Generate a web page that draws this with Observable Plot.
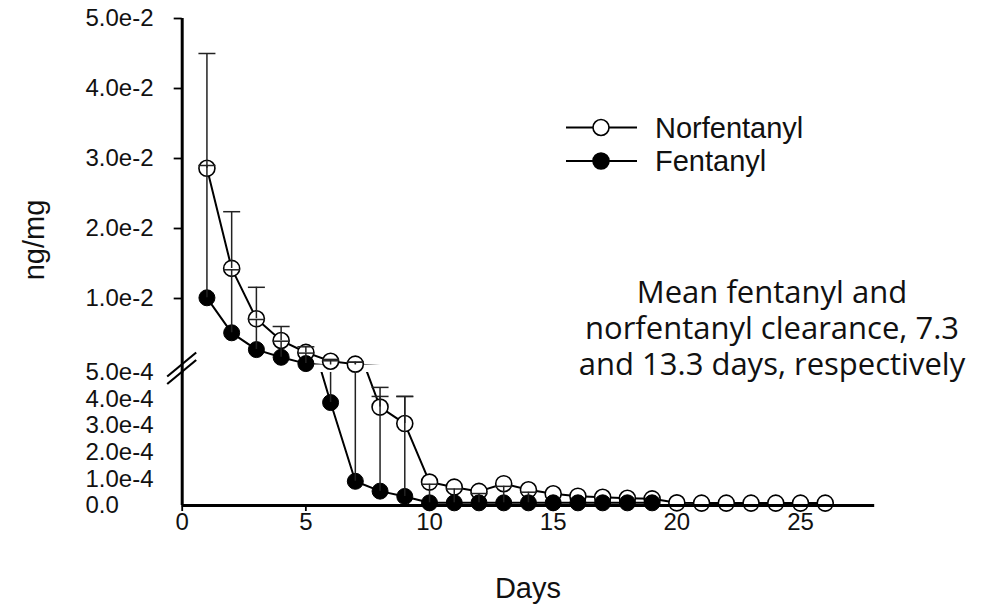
<!DOCTYPE html>
<html>
<head>
<meta charset="utf-8">
<script src="https://cdn.jsdelivr.net/npm/d3@7"></script>
<script src="https://cdn.jsdelivr.net/npm/@observablehq/plot@0.6"></script>
<style>
  body { margin: 0; background: #fff; }
  #chart { position: relative; width: 984px; height: 608px; overflow: hidden; background: #fff; }
  #chart svg { position: absolute; left: 0; top: 0; overflow: visible; }
</style>
</head>
<body>
<div id="chart"></div>
<script>
// ---------------- data ----------------
const norDays = [1,2,3,4,5,6,7,8,9,10,11,12,13,14,15,16,17,18,19,20,21,22,23,24,25,26];
const norMean = [0.0286,0.0143,0.0071,0.0040,0.0023,0.00104,0.00062,0.00037,0.000308,0.000088,0.000069,0.000053,0.000082,0.000059,0.000044,0.000035,0.000031,0.000027,0.000025,0.000010,0.000009,0.000009,0.000009,0.000009,0.000009,0.000009];
const norHigh = [0.045,0.0224,0.0116,0.0060,0.0031,0.0013,0.0009,0.000444,0.00041]; // days 1-9 (mean + SD)

const fenDays = [1,2,3,4,5,6,7,8,9,10,11,12,13,14,15,16,17,18,19];
const fenMean = [0.0101,0.0051,0.0027,0.0016,0.0007,0.000387,0.000091,0.000054,0.000034,0.000010,0.000010,0.000010,0.000010,0.000010,0.000010,0.000010,0.000010,0.000010,0.000010];
const fenHigh = [0.029,0.0141,0.0070,0.0039,0.0022,0.0011,0.0009,0.00041,0.00041,0.00008,0.000062,0.000045,0.000072,0.00005]; // days 1-14

const breakValue = 5e-4;
const upperTicks = [0.01,0.02,0.03,0.04,0.05];
const upperTickLabels = ["1.0e-2","2.0e-2","3.0e-2","4.0e-2","5.0e-2"];
const lowerTicks = [0,1e-4,2e-4,3e-4,4e-4,5e-4];
const lowerTickLabels = ["0.0","1.0e-4","2.0e-4","3.0e-4","4.0e-4","5.0e-4"];
const xTicks = [0,5,10,15,20,25];
const xDomain = [0, 28];

const xLabel = "Days";
const yLabel = "ng/mg";
const legendLabels = ["Norfentanyl", "Fentanyl"];
const legendFills = ["white", "black"];
const noteLines = ["Mean fentanyl and", "norfentanyl clearance, 7.3", "and 13.3 days, respectively"];

// ---------------- tables ----------------
const nor = norDays.map((d, i) => ({day: d, v: norMean[i]}));
const fen = fenDays.map((d, i) => ({day: d, v: fenMean[i]}));
const norErr = norHigh.map((h, i) => ({day: norDays[i], lo: norMean[i], hi: h}));
const fenErr = fenHigh.map((h, i) => ({day: fenDays[i], lo: fenMean[i], hi: h}));

const capSymbol = {
  draw(ctx, size) {
    const w = Math.sqrt(size / Math.PI);
    ctx.moveTo(-w, 0);
    ctx.lineTo(w, 0);
  }
};

const FONT = "'Liberation Sans', Arial, sans-serif";
const W = 984, H = 608;
const mLeft = 181.7, mRight = 109.8;
const labelX = 85;

function panelMarks(inPanel) {
  return [
    Plot.line(nor, {x: "day", y: "v", stroke: "black", strokeWidth: 2, clip: true}),
    Plot.line(fen, {x: "day", y: "v", stroke: "black", strokeWidth: 2, clip: true}),
    Plot.dot(nor.filter(d => inPanel(d.v)), {x: "day", y: "v", r: 8, fill: "white", stroke: "black", strokeWidth: 1.6}),
    Plot.dot(fen.filter(d => inPanel(d.v)), {x: "day", y: "v", r: 8, fill: "black", stroke: "black", strokeWidth: 1}),
    Plot.ruleX(fenErr, {x: "day", y1: "lo", y2: "hi", stroke: "#222", strokeWidth: 1.5, clip: true}),
    Plot.ruleX(norErr, {x: "day", y1: "lo", y2: "hi", stroke: "#222", strokeWidth: 1.5, clip: true}),
    Plot.dot(fenErr.filter(d => inPanel(d.hi)), {x: "day", y: "hi", symbol: capSymbol, r: 8.5, fill: "none", stroke: "#222", strokeWidth: 1.5}),
    Plot.dot(norErr.filter(d => inPanel(d.hi)), {x: "day", y: "hi", symbol: capSymbol, r: 8.5, fill: "none", stroke: "#222", strokeWidth: 1.5})
  ];
}

// left-aligned y tick labels (SigmaPlot style)
function yLabels(ticks, labels) {
  return Plot.axisY(ticks, {
    anchor: "left", label: null, tickSize: 0, tickPadding: 0,
    tickFormat: d => labels[ticks.indexOf(d)],
    textAnchor: "start", dx: labelX - mLeft, fontSize: 24, fill: "#111", stroke: "none"
  });
}

// upper panel (broken axis, top segment)
const upper = Plot.plot({
  width: W, height: 380,
  marginTop: 18, marginBottom: 15.5, marginLeft: mLeft, marginRight: mRight,
  style: {fontFamily: FONT, fontSize: "24px", background: "transparent", overflow: "visible"},
  x: {domain: xDomain, axis: null},
  y: {domain: [breakValue, 0.05]},
  marks: [
    Plot.ruleX([0], {stroke: "black", strokeWidth: 3, insetBottom: -8}),
    Plot.axisY(upperTicks, {anchor: "left", label: null, tickSize: 8, strokeWidth: 1.8, tickFormat: () => ""}),
    yLabels(upperTicks, upperTickLabels),
    ...panelMarks(v => v >= breakValue)
  ]
});

// lower panel (bottom segment with x axis)
const lower = Plot.plot({
  width: W, height: H,
  marginTop: 372, marginBottom: 103, marginLeft: mLeft, marginRight: mRight,
  style: {fontFamily: FONT, fontSize: "24px", background: "transparent", overflow: "visible"},
  x: {domain: xDomain},
  y: {domain: [0, breakValue]},
  marks: [
    Plot.ruleX([0], {stroke: "black", strokeWidth: 3}),
    yLabels(lowerTicks, lowerTickLabels),
    Plot.axisX(xTicks, {anchor: "bottom", label: null, tickSize: 6, tickPadding: 1, strokeWidth: 1.8,
      tickFormat: d => String(d), fontSize: 24, fill: "#111"}),
    ...panelMarks(v => v < breakValue),
    Plot.ruleY([0], {stroke: "black", strokeWidth: 3})
  ]
});

const chart = document.getElementById("chart");
chart.append(upper);
chart.append(lower);

// ---------------- overlay: break marks, legend, titles, note ----------------
const xs = lower.scale("x"), yU = upper.scale("y"), yL = lower.scale("y");
const ax = xs.apply(0);
const yTop = yU.apply(breakValue), yBot = yL.apply(breakValue);

const ov = d3.create("svg").attr("width", W).attr("height", H)
  .style("font-family", FONT);

// axis break marks
[yTop, yBot].forEach(y => {
  ov.append("line")
    .attr("x1", ax - 14.5).attr("y1", y + 12)
    .attr("x2", ax + 14.5).attr("y2", y - 12)
    .attr("stroke", "black").attr("stroke-width", 2.2);
});

// legend
const legX0 = 566, legX1 = 637, legCx = 601, legY0 = 127.5, legDy = 33.5;
legendLabels.forEach((lab, i) => {
  const y = legY0 + i * legDy;
  ov.append("line").attr("x1", legX0).attr("x2", legX1).attr("y1", y).attr("y2", y)
    .attr("stroke", "black").attr("stroke-width", 2);
  ov.append("circle").attr("cx", legCx).attr("cy", y).attr("r", 8)
    .attr("fill", legendFills[i]).attr("stroke", "black").attr("stroke-width", 1.6);
  ov.append("text").attr("x", 655).attr("y", y + 10)
    .attr("font-size", 29).attr("fill", "#111").text(lab);
});

// axis titles
ov.append("text").attr("x", (mLeft + (W - mRight)) / 2).attr("y", 598)
  .attr("text-anchor", "middle").attr("font-size", 29).attr("fill", "#111").text(xLabel);
ov.append("text").attr("transform", "translate(44,240) rotate(-90)")
  .attr("text-anchor", "middle").attr("font-size", 29).attr("fill", "#111").text(yLabel);

// note (one wrapped text block)
const note = ov.append("text")
  .attr("text-anchor", "middle")
  .attr("font-family", "'Open Sans', 'Noto Sans', sans-serif")
  .attr("font-size", 31).attr("fill", "#111");
noteLines.forEach((t, i) => {
  note.append("tspan").attr("x", 772).attr("y", 303 + i * 36).text(t);
});

chart.append(ov.node());
</script>
</body>
</html>
